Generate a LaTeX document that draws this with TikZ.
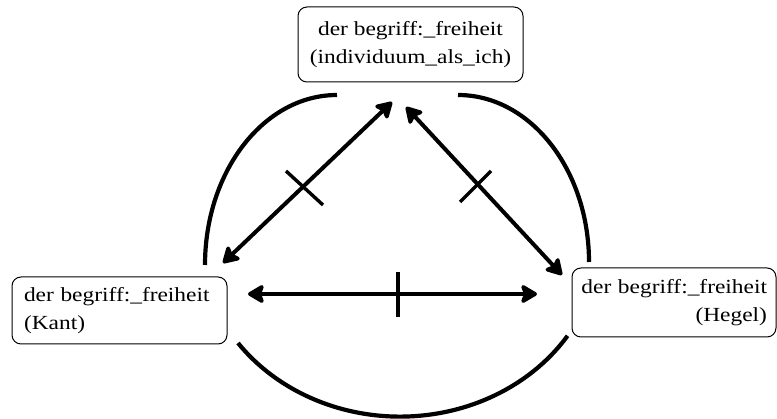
\documentclass[tikz,border=0pt]{standalone}
\usepackage{fontspec}
\setmainfont{Liberation Serif}[FakeStretch=1.17]
\usetikzlibrary{arrows.meta}

\tikzset{
  concept/.style={draw=black, line width=1pt, rounded corners=9pt,
    inner ysep=0pt, font=\fontsize{20}{28}\selectfont},
  relation/.style={line width=4pt,
    {Stealth[length=19pt,width=22pt,inset=4pt,round]}-{Stealth[length=19pt,width=22pt,inset=4pt,round]}},
  bound/.style={line width=4.2pt},
  tick/.style={line width=3.4pt},
}

\begin{document}
\begin{tikzpicture}[x=1pt,y=-1pt]
  \useasboundingbox (0,0) rectangle (777,419);

  % the three concepts of freedom
  \node[concept, minimum width=225pt, minimum height=75pt, align=center]
    (ich) at (410.5,44.5) {der begriff:\_freiheit\\(individuum\_als\_ich)};
  \node[concept, minimum width=215pt, minimum height=67pt, inner xsep=12pt,
    text width=191pt, align=left]
    (kant) at (119.5,310.5) {der begriff:\_freiheit\\(Kant)};
  \node[concept, minimum width=204pt, minimum height=69pt, inner xsep=9pt,
    text width=186pt, align=right]
    (hegel) at (674,302.5) {der begriff:\_freiheit\\(Hegel)};

  % arrow ends next to each box
  \coordinate (kant-up)    at (223,263);
  \coordinate (ich-left)   at (392,102);
  \coordinate (ich-right)  at (406,107);
  \coordinate (hegel-up)   at (562,275);
  \coordinate (kant-right) at (248,294);
  \coordinate (hegel-left) at (537,294);

  % relations between the concepts
  \draw[relation] (kant-up) -- (ich-left);
  \draw[relation] (ich-right) -- (hegel-up);
  \draw[relation] (kant-right) -- (hegel-left);

  % cross strokes on the relations
  \draw[tick] (286,171) -- (323,205);
  \draw[tick] (491,171) -- (460,202);
  \draw[tick] (398,272) -- (398,317);

  % enclosing arcs
  \draw[bound] (205,265) arc[start angle=180, end angle=270, x radius=132, y radius=170];
  \draw[bound] (458,95) arc[start angle=270, end angle=360, x radius=131, y radius=167];
  \draw[bound] (238,343) arc[start angle=144.1, end angle=33.1, x radius=200, y radius=178];
\end{tikzpicture}
\end{document}
